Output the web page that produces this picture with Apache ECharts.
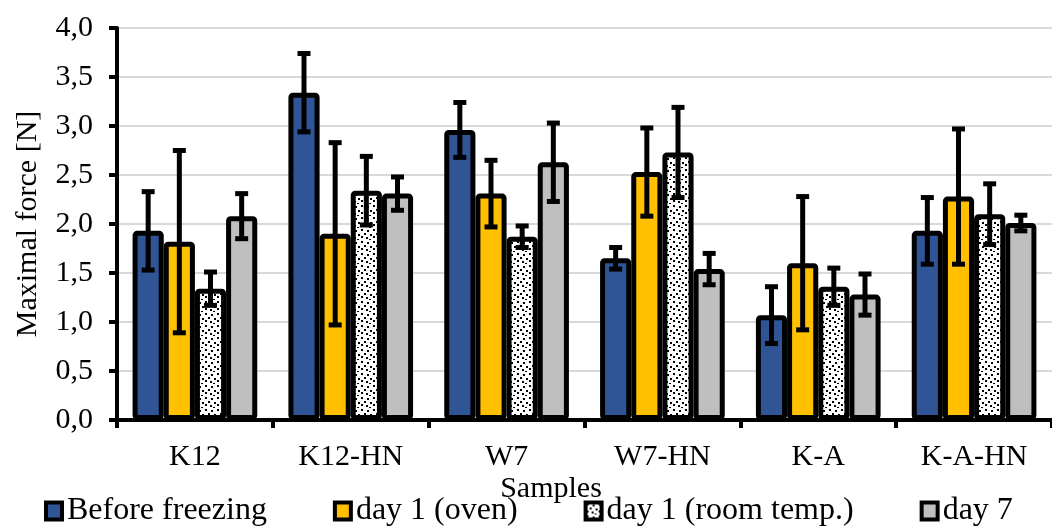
<!DOCTYPE html>
<html>
<head>
<meta charset="utf-8">
<script src="https://cdn.jsdelivr.net/npm/echarts@6/dist/echarts.min.js"></script>
<style>
html,body{margin:0;padding:0;background:#fff;}
#c{width:1052px;height:526px;}
</style>
</head>
<body>
<div id="c"></div>
<script>
const categories = ['K12', 'K12-HN', 'W7', 'W7-HN', 'K-A', 'K-A-HN'];
const seriesNames = ['Before freezing', 'day 1 (oven)', 'day 1 (room temp.)', 'day 7'];
const beforeFreezing = [1.93, 3.34, 2.96, 1.65, 1.07, 1.93];
const beforeFreezingErr = [0.40, 0.40, 0.28, 0.11, 0.29, 0.34];
const day1Oven = [1.82, 1.90, 2.31, 2.53, 1.60, 2.28];
const day1OvenErr = [0.93, 0.93, 0.34, 0.45, 0.68, 0.69];
const day1Room = [1.34, 2.34, 1.87, 2.73, 1.36, 2.10];
const day1RoomErr = [0.17, 0.35, 0.11, 0.46, 0.19, 0.31];
const day7 = [2.08, 2.31, 2.63, 1.54, 1.28, 2.01];
const day7Err = [0.23, 0.17, 0.40, 0.16, 0.21, 0.08];
const yTicks = [0, 0.5, 1, 1.5, 2, 2.5, 3, 3.5, 4];

const values = [beforeFreezing, day1Oven, day1Room, day7];
const errors = [beforeFreezingErr, day1OvenErr, day1RoomErr, day7Err];

// dotted pattern
const pc = document.createElement('canvas');
pc.width = 12; pc.height = 12;
const pctx = pc.getContext('2d');
pctx.fillStyle = '#fff';
pctx.fillRect(0, 0, 12, 12);
pctx.fillStyle = '#000';
[[1,1],[7,2],[4,5],[10,6],[1,8],[6,9],[9,11]].forEach(p => pctx.fillRect(p[0], p[1], 2, 2));

const fills = ['#2F5597', '#FFC000', {image: pc, repeat: 'repeat'}, '#BFBFBF'];
const FONT = '"Liberation Serif", "Times New Roman", serif';

const series = [];
values.forEach((vals, k) => {
  series.push({
    name: seriesNames[k],
    type: 'bar',
    data: vals,
    barGap: '0%',
    barCategoryGap: '20%',
    itemStyle: {color: fills[k], borderColor: '#000', borderWidth: 5, borderRadius: 2},
    emphasis: {disabled: true},
    z: 2
  });
});
values.forEach((vals, k) => {
  series.push({
    type: 'custom',
    name: 'err' + k,
    data: vals.map((v, i) => [i, v - errors[k][i], v + errors[k][i]]),
    encode: {x: 0, y: [1, 2]},
    z: 5,
    renderItem: function (params, api) {
      const i = api.value(0);
      const lo = api.coord([i, api.value(1)]);
      const hi = api.coord([i, api.value(2)]);
      const band = api.size([1, 0])[0];
      const x = lo[0] + band * (-0.3 + 0.2 * k);
      const cap = 6.5;
      const st = {stroke: '#000', lineWidth: 5};
      return {
        type: 'group',
        children: [
          {type: 'line', shape: {x1: x, y1: lo[1], x2: x, y2: hi[1]}, style: st},
          {type: 'line', shape: {x1: x - cap, y1: lo[1], x2: x + cap, y2: lo[1]}, style: st},
          {type: 'line', shape: {x1: x - cap, y1: hi[1], x2: x + cap, y2: hi[1]}, style: st}
        ]
      };
    }
  });
});

const chart = echarts.init(document.getElementById('c'));
chart.setOption({
  animation: false,
  backgroundColor: '#fff',
  grid: {left: 117, top: 28, width: 944, height: 392, containLabel: false},
  legend: {
    data: seriesNames,
    left: 44,
    top: 495,
    padding: 0,
    itemWidth: 16,
    itemHeight: 17,
    itemGap: 66,
    icon: 'rect',
    itemStyle: {borderColor: '#000', borderWidth: 4},
    textStyle: {fontFamily: FONT, fontSize: 32, color: '#000'}
  },
  graphic: [{
    type: 'text', x: 551, y: 489,
    style: {text: 'Samples', fontFamily: FONT, fontSize: 30, fill: '#000', align: 'center', verticalAlign: 'middle'}
  }],
  xAxis: {
    type: 'category',
    data: categories,
    axisLine: {lineStyle: {color: '#000', width: 4}},
    axisTick: {show: true, length: 8, lineStyle: {color: '#000', width: 4}},
    axisLabel: {fontFamily: FONT, fontSize: 30, color: '#000', margin: 22}
  },
  yAxis: {
    type: 'value',
    min: yTicks[0],
    max: yTicks[yTicks.length - 1],
    interval: 0.5,
    name: 'Maximal force [N]',
    nameLocation: 'middle',
    nameGap: 74,
    nameTextStyle: {fontFamily: FONT, fontSize: 30, color: '#000'},
    axisLine: {show: true, lineStyle: {color: '#000', width: 4}},
    axisTick: {show: true, length: 8, lineStyle: {color: '#000', width: 4}},
    axisLabel: {fontFamily: FONT, fontSize: 30, color: '#000', margin: 24,
      formatter: v => v.toFixed(1).replace('.', ',')},
    splitLine: {lineStyle: {color: '#D9D9D9', width: 2}}
  },
  series: series
});
</script>
</body>
</html>
